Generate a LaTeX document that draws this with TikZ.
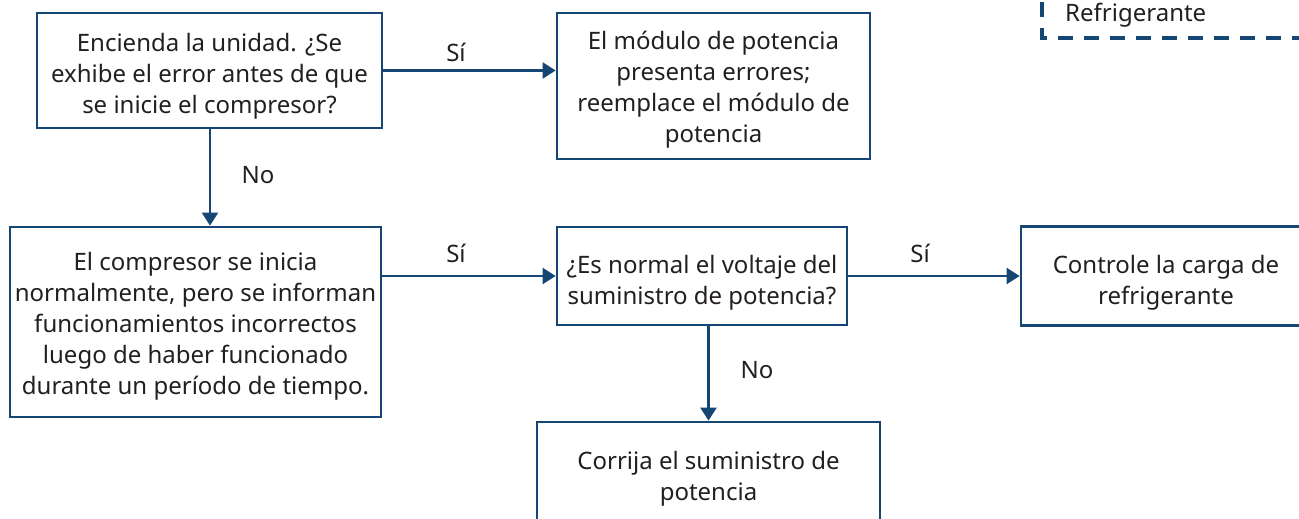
\documentclass[tikz,border=0pt]{standalone}
\usepackage{fontspec}
\setmainfont{Noto Sans}
\usetikzlibrary{arrows.meta}
\definecolor{fblue}{RGB}{22,70,115}
\definecolor{ftext}{RGB}{35,31,32}
\begin{document}
\begin{tikzpicture}[x=1pt,y=-1pt,
  box/.style={draw=fblue, line width=2.8pt, rectangle, inner sep=0pt, align=center,
    text=ftext, font=\fontsize{24}{31}\selectfont},
  lbl/.style={text=ftext, font=\fontsize{24}{28}\selectfont, inner sep=0pt},
  conn/.style={draw=fblue, line width=2.4pt, -{Triangle[length=13pt,width=16pt]}}]
\clip (0,0) rectangle (1299,519);
\fill[white] (0,0) rectangle (1299,519);
% legend fragment
\draw[fblue, line width=4pt, dash pattern=on 15pt off 11pt] (1042,-24) coordinate (lgA) -- (1042,38) coordinate (lgB) -- (1320,38) coordinate (lgC);
\node[lbl, anchor=west] (leg) at (1065,15) {Refrigerante};
% boxes
\node[box, minimum width=345pt, minimum height=115pt] (b1) at (209.5,70.5)
  {\rule{0pt}{30pt}Encienda la unidad. ¿Se\\exhibe el error antes de que\\se inicie el compresor?};
\node[box, minimum width=313pt, minimum height=146pt] (b2) at (713.5,86)
  {\rule{0pt}{26pt}El módulo de potencia\\presenta errores;\\reemplace el módulo de\\potencia};
\node[box, minimum width=371pt, minimum height=190pt] (b3) at (195.5,322)
  {\rule{0pt}{26pt}El compresor se inicia\\normalmente, pero se informan\\funcionamientos incorrectos\\luego de haber funcionado\\durante un período de tiempo.};
\node[box, minimum width=290pt, minimum height=98pt] (b4) at (702,276)
  {\rule{0pt}{32pt}¿Es normal el voltaje del\\suministro de potencia?};
\node[box, minimum width=290pt, minimum height=99pt] (b5) at (1166,276)
  {\rule{0pt}{32pt}Controle la carga de\\refrigerante};
\node[box, minimum width=343pt, minimum height=103pt] (b6) at (708.5,473.5)
  {\rule{0pt}{28pt}Corrija el suministro de\\potencia};
% connectors
\draw[conn] (b1.east) -- (b2.west |- b1.east);
\draw[conn] (b1.south -| 210,0) -- (b3.north -| 210,0);
\draw[conn] (b3.east |- b4.west) -- (b4.west);
\draw[conn] (b4.east) -- (b5.west);
\draw[conn] (b4.south -| b6.north) -- (b6.north);
% labels
\node[lbl] (l1) at (456,52) {Sí};
\node[lbl] (l2) at (258,175) {No};
\node[lbl] (l3) at (456,253) {Sí};
\node[lbl] (l4) at (920,253) {Sí};
\node[lbl] (l5) at (757,370) {No};
\end{tikzpicture}
\end{document}
